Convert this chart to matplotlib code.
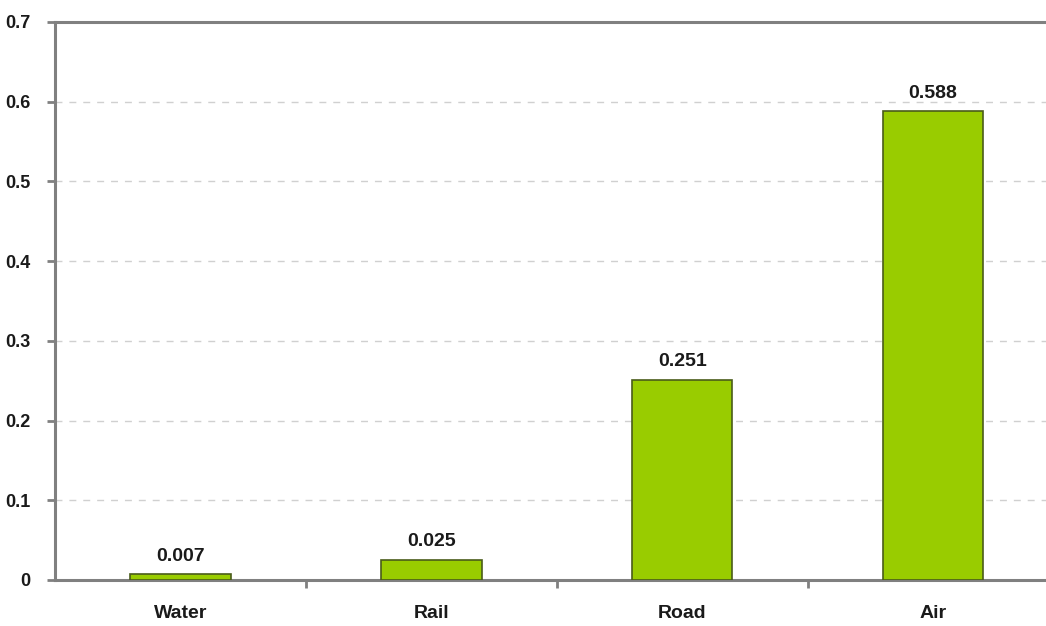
import matplotlib
matplotlib.use("Agg")
import matplotlib.pyplot as plt
import numpy as np

modes = ["Water", "Rail", "Road", "Air"]
values = [0.007, 0.025, 0.251, 0.588]
yticks = [0, 0.1, 0.2, 0.3, 0.4, 0.5, 0.6, 0.7]
ytick_labels = ["0", "0.1", "0.2", "0.3", "0.4", "0.5", "0.6", "0.7"]

plt.rcParams['font.family'] = ['Liberation Sans', 'DejaVu Sans']
plt.rcParams['font.weight'] = 'bold'

fig = plt.figure(figsize=(10.46, 6.26), dpi=100)
ax = fig.add_axes([0.0526, 0.0735, 0.9474, 0.8914])

x = np.arange(len(modes))
bars = ax.bar(x, values, width=0.4, color='#99cc00', edgecolor='#4a5c1a', linewidth=1.2, zorder=3)

for xi, v in zip(x, values):
    ax.annotate(f"{v:.3f}", (xi, v), xytext=(0, 7), textcoords='offset points',
                ha='center', va='bottom', fontsize=14, fontweight='bold', color='#1a1a1a')

ax.set_yticks(yticks)
ax.set_yticklabels(ytick_labels, fontsize=13, fontweight='bold')
ax.set_xticks(x)
ax.set_xticklabels(modes, fontsize=14, fontweight='bold')
# separator ticks between categories
ax.set_xticks(x[:-1] + 0.5, minor=True)
ax.set_xlim(-0.5, 3.45)
ax.set_ylim(0, 0.7)
ax.tick_params(axis='x', which='major', length=0, pad=18, colors='#1a1a1a')
ax.tick_params(axis='x', which='minor', length=6, width=2, color='#808080')
ax.tick_params(axis='y', length=6, width=2, color='#808080', labelcolor='#1a1a1a', pad=12)

ax.yaxis.grid(True, linestyle=(0, (5, 5)), color='#d0d0d0', linewidth=1, zorder=0)
for side in ['left', 'bottom', 'top']:
    ax.spines[side].set_color('#808080')
    ax.spines[side].set_linewidth(2.2)
ax.spines['right'].set_visible(False)

fig.savefig("out.png", dpi=100)
